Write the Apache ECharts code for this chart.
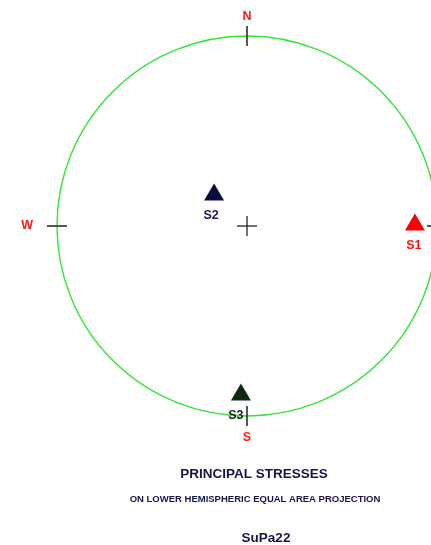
<!DOCTYPE html>
<html>
<head>
<meta charset="utf-8">
<script src="https://cdn.jsdelivr.net/npm/echarts@6/dist/echarts.min.js"></script>
<style>
  html, body { margin: 0; padding: 0; background: #fff; }
  #mychart { width: 431px; height: 545px; }
</style>
</head>
<body>
<div id="mychart"></div>
<script>
  // principal stresses, lower hemisphere equal area (radius 0..1, azimuth deg)
  var stressNames = ['S1', 'S2', 'S3']
  var stressRadius = [0.884, 0.249, 0.874]
  var stressAzimuth = [88.6, 315.9, 182.1]

  var compassLabels = ['N', 'E', 'S', 'W']
  var compassAzimuth = [0, 90, 180, 270]

  var titleText = 'PRINCIPAL STRESSES'
  var subText = 'ON LOWER HEMISPHERIC EQUAL AREA PROJECTION'
  var siteName = 'SuPa22'

  var stressColor = { S1: '#ff0000', S2: '#0b0b3b', S3: '#0c2a10' }
  var stressLabelColor = { S1: '#ff1010', S2: '#1a1a55', S3: '#0c2a10' }
  var stressLabelShift = { S1: [-1, 0], S2: [-3, 0], S3: [-5, 0] }

  var labelPos = { N: 'top', E: 'right', S: 'bottom', W: 'left' }
  var labelDist = { N: 3, E: 8, S: 5, W: 14 }

  var font = 'Liberation Sans, Arial, sans-serif'

  function compassData() {
    return compassLabels.map(function (lab, i) {
      var vertical = lab === 'N' || lab === 'S'
      return {
        value: [1, compassAzimuth[i]],
        symbolSize: vertical ? [1.5, 20] : [20, 1.8],
        itemStyle: { color: vertical ? '#222' : '#444', opacity: 1 },
        label: {
          show: true,
          formatter: lab,
          position: labelPos[lab],
          distance: labelDist[lab],
          color: '#ff1a1a',
          fontWeight: 'bold',
          fontSize: 12.5,
          fontFamily: font
        }
      }
    })
  }

  function stressData() {
    return stressNames.map(function (name, i) {
      return {
        name: name,
        value: [stressRadius[i], stressAzimuth[i]],
        itemStyle: { color: stressColor[name], opacity: 1 },
        label: { color: stressLabelColor[name], offset: stressLabelShift[name] }
      }
    })
  }

  var chart = echarts.init(document.getElementById('mychart'))
  chart.setOption({
    animation: false,
    title: [
      {
        text: titleText,
        left: 249,
        top: 462,
        textAlign: 'center',
        textStyle: { color: '#15154a', fontSize: 13.5, fontWeight: 'bold', fontFamily: font }
      },
      {
        text: subText,
        left: 250,
        top: 489,
        textAlign: 'center',
        textStyle: { color: '#15154a', fontSize: 9.5, fontWeight: 'bold', fontFamily: font }
      },
      {
        text: siteName,
        left: 261,
        top: 526,
        textAlign: 'center',
        textStyle: { color: '#15154a', fontSize: 13.5, fontWeight: 'bold', fontFamily: font }
      }
    ],
    polar: {
      center: [247, 226],
      radius: 190
    },
    angleAxis: {
      type: 'value',
      min: 0,
      max: 360,
      startAngle: 90,
      clockwise: true,
      axisLine: { lineStyle: { color: '#33e633', width: 1.4 } },
      axisTick: { show: false },
      axisLabel: { show: false },
      splitLine: { show: false }
    },
    radiusAxis: {
      type: 'value',
      min: 0,
      max: 1,
      axisLine: { show: false },
      axisTick: { show: false },
      axisLabel: { show: false },
      splitLine: { show: false }
    },
    series: [
      {
        type: 'scatter',
        coordinateSystem: 'polar',
        symbol: 'rect',
        silent: true,
        data: compassData()
      },
      {
        // centre cross
        type: 'scatter',
        coordinateSystem: 'polar',
        symbol: 'rect',
        silent: true,
        itemStyle: { color: '#222', opacity: 1 },
        data: [
          { value: [0, 0], symbolSize: [20, 1.3] },
          { value: [0, 0], symbolSize: [1.3, 20] }
        ]
      },
      {
        type: 'scatter',
        coordinateSystem: 'polar',
        symbol: 'triangle',
        symbolSize: [20, 17],
        label: {
          show: true,
          position: 'bottom',
          distance: 9,
          formatter: '{b}',
          fontWeight: 'bold',
          fontSize: 12.5,
          fontFamily: font
        },
        data: stressData()
      }
    ]
  })
</script>
</body>
</html>
